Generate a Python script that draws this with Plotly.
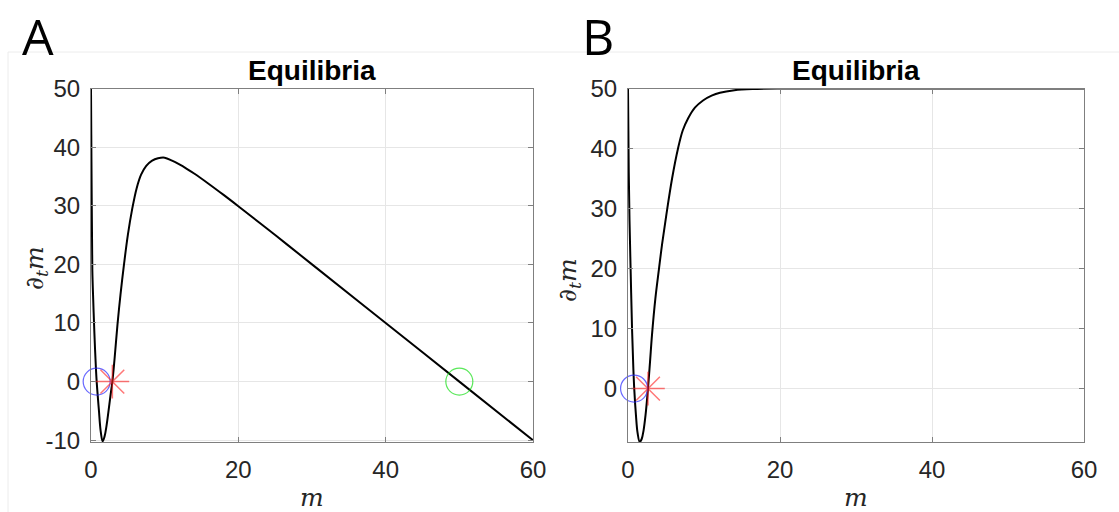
import plotly.graph_objects as go

# ---------------- data ----------------
# Panel A: dm/dt vs m
mA = [0, 0.04, 0.08, 0.13, 0.18, 0.3, 0.41, 0.55, 0.66, 0.77, 0.95, 1.08, 1.3, 1.58,
      1.85, 2.1, 2.35, 2.6, 2.9, 3.2, 3.6, 4.0, 4.5, 5.0, 5.6, 6.2, 6.8, 7.5, 8.3,
      9.1, 10, 11, 12, 13, 14, 16, 18, 20, 25, 30, 40, 50, 60]
fA = [50, 42, 34, 26, 19, 14, 10, 5.5, 2.5, 0, -3, -5, -8.3, -10.2,
      -9.3, -7.6, -5.3, -2.8, 0, 3.9, 9.8, 14.8, 20.2, 25, 29.5, 33, 35.3, 36.8, 37.7,
      38.1, 38.2, 37.7, 37.05, 36.3, 35.5, 33.72, 31.85, 29.92, 25, 20, 10, 0, -10]

# Panel B: dm/dt vs m
mB = [0, 0.05, 0.1, 0.2, 0.36, 0.53, 0.7, 0.82, 1.05, 1.25, 1.54, 1.8, 2.05, 2.3,
      2.63, 2.9, 3.16, 3.6, 4.08, 4.5, 5.05, 5.8, 6.58, 7.2, 7.9, 8.8, 9.87, 11,
      12.1, 14, 16.4, 20, 30, 40, 50, 60]
fB = [50, 43, 36, 28, 19, 10, 3.5, 0, -4.5, -7.3, -8.9, -8.4, -6.95, -4.5,
      0, 4.5, 9, 15, 20, 24.2, 29, 35, 40, 43, 45, 46.8, 48, 48.8,
      49.3, 49.72, 49.92, 50, 50, 50, 50, 50]

# equilibria markers
eqA_unstable_m = [0.77]; eqA_unstable_f = [0]
eqA_star_m = [2.9];      eqA_star_f = [0]
eqA_stable_m = [50];     eqA_stable_f = [0]
eqB_unstable_m = [0.8];  eqB_unstable_f = [0]
eqB_star_m = [2.63];     eqB_star_f = [0]

x_ticks = [0, 20, 40, 60]
x_ticktext = ["0", "20", "40", "60"]
yA_ticks = [-10, 0, 10, 20, 30, 40, 50]
yA_ticktext = ["-10", "0", "10", "20", "30", "40", "50"]
yB_ticks = [0, 10, 20, 30, 40, 50]
yB_ticktext = ["0", "10", "20", "30", "40", "50"]
yA_range = [-10.3, 50]
yB_range = [-8.9, 50]
x_range = [0, 60]

W, H = 1119, 512
def px(x): return x / W
def py(y): return 1 - y / H

fig = go.Figure()

BLUE = "rgba(40,40,255,0.7)"
GREEN = "rgba(0,220,0,0.65)"
RED = "rgba(255,30,30,0.6)"

def add_panel(xa, ya, m, f, circ_m, circ_f, star_m, star_f, green=None):
    fig.add_trace(go.Scatter(x=m, y=f, mode="lines", xaxis=xa, yaxis=ya,
                             line=dict(color="black", width=2, shape="spline", smoothing=1),
                             hoverinfo="skip", showlegend=False))
    fig.add_trace(go.Scatter(x=circ_m, y=circ_f, mode="markers", xaxis=xa, yaxis=ya,
                             cliponaxis=False,
                             marker=dict(symbol="circle-open", size=27, color=BLUE,
                                         line=dict(color=BLUE, width=1.2)),
                             showlegend=False))
    if green is not None:
        fig.add_trace(go.Scatter(x=green[0], y=green[1], mode="markers", xaxis=xa, yaxis=ya,
                                 cliponaxis=False,
                                 marker=dict(symbol="circle-open", size=27, color=GREEN,
                                             line=dict(color=GREEN, width=1.2)),
                                 showlegend=False))
    fig.add_trace(go.Scatter(x=star_m, y=star_f, mode="markers", xaxis=xa, yaxis=ya,
                             cliponaxis=False,
                             marker=dict(symbol="asterisk-open", size=28, color=RED,
                                         line=dict(color=RED, width=1.5)),
                             showlegend=False))

add_panel("x", "y", mA, fA, eqA_unstable_m, eqA_unstable_f, eqA_star_m, eqA_star_f,
          green=(eqA_stable_m, eqA_stable_f))
add_panel("x2", "y2", mB, fB, eqB_unstable_m, eqB_unstable_f, eqB_star_m, eqB_star_f)

axis_common = dict(showline=True, linecolor="#7f7f7f", linewidth=1, mirror="ticks",
                   ticks="inside", ticklen=5, tickcolor="#7f7f7f", automargin=False,
                   showgrid=True, gridcolor="#e6e6e6", gridwidth=1, zeroline=False,
                   tickfont=dict(family="Liberation Sans, Arial", size=24, color="#262626"))

ytop, ybot = 88.5, 442
fig.update_layout(
    width=W, height=H, autosize=False,
    margin=dict(l=0, r=0, t=0, b=0, pad=0, autoexpand=False),
    paper_bgcolor="white", plot_bgcolor="white", showlegend=False,
    xaxis=dict(domain=[px(91), px(533)], range=x_range, tickvals=x_ticks, ticktext=x_ticktext,
               anchor="y", ticklabelstandoff=6, **axis_common),
    yaxis=dict(domain=[py(ybot), py(ytop)], range=yA_range, tickvals=yA_ticks, ticktext=yA_ticktext,
               anchor="x", ticklabelstandoff=5, **axis_common),
    xaxis2=dict(domain=[px(628), px(1084)], range=x_range, tickvals=x_ticks, ticktext=x_ticktext,
                anchor="y2", ticklabelstandoff=6, **axis_common),
    yaxis2=dict(domain=[py(ybot), py(ytop)], range=yB_range, tickvals=yB_ticks, ticktext=yB_ticktext,
                anchor="x2", ticklabelstandoff=5, **axis_common),
)

ann = []
# panel letters
ann.append(dict(text="A", x=px(20), y=py(36), xanchor="left", yanchor="middle",
                font=dict(family="Open Sans, Liberation Sans", size=50, color="black")))
ann.append(dict(text="B", x=px(580), y=py(36), xanchor="left", yanchor="middle",
                font=dict(family="Open Sans, Liberation Sans", size=50, color="black")))
# titles
for cx in (312, 856):
    ann.append(dict(text="<b>Equilibria</b>", x=px(cx), y=py(70), xanchor="center", yanchor="middle",
                    font=dict(family="Liberation Sans, Arial", size=28, color="black")))
# x labels
for cx in (312, 856):
    ann.append(dict(text="m", x=px(cx), y=py(497), xanchor="center", yanchor="middle",
                    font=dict(family="DejaVu Serif, Liberation Serif", size=25, color="#262626",
                              style="italic")))
# y labels
for cx, cy in ((36, 268), (569, 280)):
    ann.append(dict(text="∂<sub>t</sub>m", x=px(cx), y=py(cy), xanchor="center", yanchor="middle",
                    textangle=-90,
                    font=dict(family="DejaVu Serif, Liberation Serif", size=25, color="#262626",
                              style="italic")))
for a in ann:
    a.update(xref="paper", yref="paper", showarrow=False)
fig.update_layout(annotations=ann)

# faint panel frames from the pasted images
fig.add_shape(type="line", xref="paper", yref="paper", x0=px(8), x1=1, y0=py(52), y1=py(52),
              line=dict(color="#ececec", width=1))
fig.add_shape(type="line", xref="paper", yref="paper", x0=px(8), x1=px(8), y0=0, y1=py(52),
              line=dict(color="#ececec", width=1))

fig.write_html("out.html")
